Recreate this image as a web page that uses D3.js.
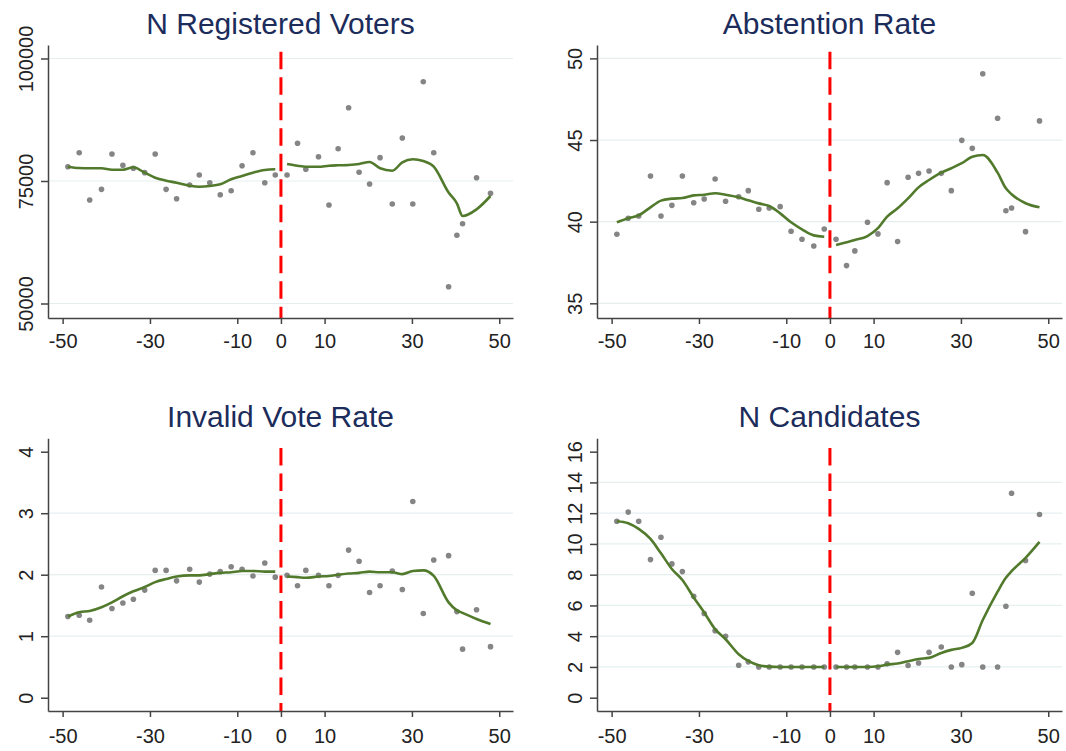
<!DOCTYPE html>
<html>
<head>
<meta charset="utf-8">
<script src="https://cdn.jsdelivr.net/npm/d3@7"></script>
<style>
  body { margin: 0; background: #fff; }
  text { font-family: "Liberation Sans", Arial, sans-serif; }
</style>
</head>
<body>
<div id="chart"></div>
<script>
// bin means of the running variable, left and right of the cutoff
var xLeft  = [-48.8, -46.2, -43.8, -41.1, -38.7, -36.2, -33.8, -31.2, -28.8, -26.3, -23.9, -20.9, -18.7, -16.3, -13.9, -11.4, -8.9, -6.4, -3.7, -1.3];
var xRight = [1.4, 3.8, 5.7, 8.6, 11.0, 13.1, 15.5, 17.9, 20.3, 22.7, 25.5, 27.8, 30.2, 32.6, 35.0, 38.4, 40.3, 41.6, 44.8, 48.0];

var xTicks = [-50, -30, -10, 0, 10, 30, 50];

// N Registered Voters
var regLeft     = [77920, 80780, 71120, 73300, 80510, 78200, 77590, 76700, 80510, 73300, 71390, 74180, 76220, 74650, 72200, 73020, 78120, 80780, 74650, 76220];
var regRight    = [76220, 82690, 77390, 79960, 70100, 81590, 89960, 76770, 74390, 79760, 70300, 83780, 70300, 95270, 80780, 53430, 63920, 66290, 75670, 72490];
var regFitLeft  = [77920, 77650, 77590, 77590, 77300, 77300, 77800, 76700, 75680, 75070, 74650, 74040, 73840, 73980, 74330, 75350, 76020, 76700, 77250, 77390];
var regFitRight = [78470, 78120, 77920, 77920, 78120, 78200, 78270, 78470, 78880, 77590, 77100, 78810, 79430, 79080, 77920, 72630, 70450, 67860, 69220, 71940];
var regTicks = [50000, 75000, 100000];

// Abstention Rate
var absLeft     = [39.23, 40.21, 40.35, 42.80, 40.35, 41.00, 42.80, 41.16, 41.39, 42.61, 41.25, 41.53, 41.90, 40.76, 40.84, 40.92, 39.41, 38.92, 38.51, 39.55];
var absRight    = [38.92, 37.31, 38.21, 39.96, 39.25, 42.39, 38.78, 42.72, 42.96, 43.10, 42.96, 41.90, 44.98, 44.49, 49.06, 46.33, 40.67, 40.84, 39.39, 46.17];
var absFitLeft  = [39.96, 40.21, 40.39, 40.88, 41.29, 41.41, 41.45, 41.61, 41.65, 41.74, 41.65, 41.49, 41.31, 41.12, 40.96, 40.51, 39.96, 39.53, 39.16, 39.08];
var absFitRight = [38.57, 38.74, 38.88, 39.12, 39.60, 40.31, 40.82, 41.43, 42.10, 42.55, 43.00, 43.27, 43.58, 43.98, 44.08, 43.00, 42.04, 41.68, 41.13, 40.88];
var absTicks = [35, 40, 45, 50];

// Invalid Vote Rate
var invLeft     = [1.32, 1.34, 1.26, 1.80, 1.45, 1.54, 1.60, 1.75, 2.07, 2.07, 1.90, 2.09, 1.88, 2.01, 2.05, 2.13, 2.09, 1.98, 2.19, 1.96];
var invRight    = [1.99, 1.82, 2.07, 1.99, 1.82, 1.99, 2.40, 2.22, 1.71, 1.82, 2.06, 1.76, 3.19, 1.37, 2.24, 2.31, 1.40, 0.79, 1.43, 0.83];
var invFitLeft  = [1.32, 1.39, 1.41, 1.47, 1.55, 1.65, 1.73, 1.80, 1.88, 1.93, 1.97, 1.99, 1.99, 2.01, 2.03, 2.04, 2.06, 2.06, 2.05, 2.05];
var invFitRight = [1.97, 1.96, 1.95, 1.97, 1.98, 2.00, 2.02, 2.03, 2.05, 2.04, 2.04, 2.01, 2.06, 2.07, 1.98, 1.55, 1.42, 1.38, 1.28, 1.20];
var invTicks = [0, 1, 2, 3, 4];

// N Candidates
var candLeft     = [11.48, 12.07, 11.48, 8.98, 10.43, 8.70, 8.20, 6.59, 5.48, 4.35, 4.00, 2.11, 2.33, 2.0, 2.0, 2.0, 2.0, 2.0, 2.0, 2.0];
var candRight    = [2.0, 2.0, 2.0, 2.0, 2.0, 2.2, 2.95, 2.09, 2.26, 2.95, 3.30, 2.0, 2.15, 6.79, 2.0, 2.0, 5.95, 13.30, 8.92, 11.91];
var candFitLeft  = [11.48, 11.35, 10.98, 10.33, 9.39, 8.37, 7.65, 6.52, 5.54, 4.46, 3.80, 2.83, 2.39, 2.11, 2.02, 2.0, 2.0, 2.0, 2.0, 2.0];
var candFitRight = [2.0, 2.0, 2.0, 2.0, 2.04, 2.15, 2.22, 2.37, 2.52, 2.59, 2.91, 3.11, 3.24, 3.56, 5.05, 6.90, 7.80, 8.23, 9.09, 10.13];
var candTicks = [0, 2, 4, 6, 8, 10, 12, 14, 16];

var outerWidth = 1066,
    outerHeight = 751,
    boxWidth = 465,
    colX = [48, 597],
    rowY = [45, 438.3],
    rowH = [273, 272.7];

var panels = [
  {title: "N Registered Voters", col: 0, row: 0, left: regLeft, right: regRight, fitL: regFitLeft, fitR: regFitRight,
   domain: [47040, 102755], ticks: regTicks, grid: regTicks, lineTop: 6.7},
  {title: "Abstention Rate", col: 1, row: 0, left: absLeft, right: absRight, fitL: absFitLeft, fitR: absFitRight,
   domain: [34.10, 50.82], ticks: absTicks, grid: absTicks, lineTop: 6.7},
  {title: "Invalid Vote Rate", col: 0, row: 1, left: invLeft, right: invRight, fitL: invFitLeft, fitR: invFitRight,
   domain: [-0.216, 4.218], ticks: invTicks, grid: [1, 2, 3], lineTop: 9.7},
  {title: "N Candidates", col: 1, row: 1, left: candLeft, right: candRight, fitL: candFitLeft, fitR: candFitRight,
   domain: [-0.865, 16.87], ticks: candTicks, grid: [2, 4, 6, 8, 10, 12, 14], lineTop: 9.7}
];

var svg = d3.select("#chart").append("svg")
    .attr("width", outerWidth)
    .attr("height", outerHeight);

var axisColor = "#444",
    labelColor = "#222",
    titleColor = "#1c2c5b";

panels.forEach(function(p) {
  var h = rowH[p.row];

  var x = d3.scaleLinear()
      .domain([-53.35, 53.15])
      .range([0, boxWidth]);

  var y = d3.scaleLinear()
      .domain(p.domain)
      .range([h, 0]);

  var g = svg.append("g")
      .attr("transform", "translate(" + colX[p.col] + "," + rowY[p.row] + ")");

  g.append("text")
      .attr("x", boxWidth / 2)
      .attr("y", -11.5)
      .attr("text-anchor", "middle")
      .style("font-size", "30px")
      .attr("fill", titleColor)
      .text(p.title);

  g.selectAll(".grid")
      .data(p.grid)
    .enter().append("line")
      .attr("class", "grid")
      .attr("x1", 0)
      .attr("x2", boxWidth)
      .attr("y1", d => y(d))
      .attr("y2", d => y(d))
      .attr("stroke", "#e6eff0")
      .attr("stroke-width", 1.2);

  // cutoff
  g.append("line")
      .attr("x1", x(0))
      .attr("x2", x(0))
      .attr("y1", p.lineTop)
      .attr("y2", h)
      .attr("stroke", "#ff0000")
      .attr("stroke-width", 3)
      .attr("stroke-dasharray", "17.5 8");

  var pts = xLeft.map((d, i) => [d, p.left[i]])
      .concat(xRight.map((d, i) => [d, p.right[i]]));

  g.selectAll(".dot")
      .data(pts)
    .enter().append("circle")
      .attr("class", "dot")
      .attr("cx", d => x(d[0]))
      .attr("cy", d => y(d[1]))
      .attr("r", 2.8)
      .attr("fill", "#858585");

  var line = d3.line()
      .x(d => x(d[0]))
      .y(d => y(d[1]))
      .curve(d3.curveMonotoneX);

  [[xLeft, p.fitL], [xRight, p.fitR]].forEach(function(s) {
    g.append("path")
        .datum(s[0].map((d, i) => [d, s[1][i]]))
        .attr("d", line)
        .attr("fill", "none")
        .attr("stroke", "#527a2c")
        .attr("stroke-width", 2.6);
  });

  var yAxis = g.append("g")
      .call(d3.axisLeft(y).tickValues(p.ticks).tickSize(7).tickSizeOuter(0).tickFormat(d => String(d)));

  yAxis.selectAll("text")
      .attr("transform", "rotate(-90)")
      .attr("x", 0)
      .attr("y", -15)
      .attr("dy", 0)
      .attr("text-anchor", "middle")
      .style("font-size", "20px")
      .attr("fill", labelColor);

  var xAxis = g.append("g")
      .attr("transform", "translate(0," + h + ")")
      .call(d3.axisBottom(x).tickValues(xTicks).tickSize(6).tickSizeOuter(0)
        .tickPadding(p.row == 0 ? 10 : 12).tickFormat(d => String(d)));

  xAxis.selectAll("text")
      .style("font-size", "20px")
      .attr("fill", labelColor);

  g.selectAll(".domain, .tick line")
      .attr("stroke", axisColor)
      .attr("stroke-width", 1.5);
});
</script>
</body>
</html>
